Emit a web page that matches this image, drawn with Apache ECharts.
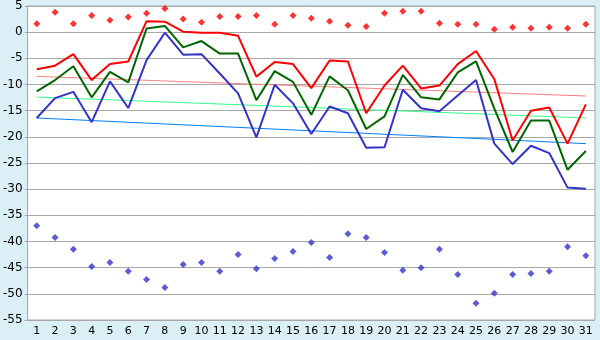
<!DOCTYPE html>
<html>
<head>
<meta charset="utf-8">
<script src="https://cdn.jsdelivr.net/npm/echarts@6/dist/echarts.min.js"></script>
<style>
  html, body { margin: 0; padding: 0; background: #daeff6; }
  #chart { width: 600px; height: 340px; }
</style>
</head>
<body>
<div id="chart"></div>
<script>
const days = Array.from({ length: 31 }, (_, i) => String(i + 1));

const redLine = [-7.1, -6.4, -4.2, -9.15, -6.1, -5.6, 2.1, 2.0, 0.1, -0.1, -0.1, -0.7, -8.5, -5.7, -6.1, -10.7,
  -5.4, -5.6, -15.5, -10.2, -6.4, -10.75, -10.2, -6.1, -3.6, -9.0, -20.7, -15.0, -14.4, -21.3, -13.8];
const greenLine = [-11.3, -9.15, -6.5, -12.45, -7.6, -9.6, 0.7, 1.2, -2.9, -1.7, -4.1, -4.1, -13.0, -7.45, -9.5, -15.8,
  -8.45, -11.1, -18.5, -16.1, -8.15, -12.45, -12.85, -7.7, -5.6, -14.6, -22.9, -16.9, -16.9, -26.3, -22.7];
const blueLine = [-16.4, -12.6, -11.4, -17.2, -9.4, -14.5, -5.35, -0.1, -4.3, -4.2, -7.9, -11.7, -20.1, -10.05, -13.6, -19.45,
  -14.2, -15.5, -22.1, -22.0, -11.0, -14.55, -15.1, -12.1, -9.15, -21.3, -25.2, -21.7, -23.1, -29.7, -29.9];

const redPoints = [1.6, 3.8, 1.6, 3.2, 2.3, 2.9, 3.6, 4.5, 2.5, 1.9, 3.0, 3.0, 3.2, 1.5, 3.2, 2.65,
  2.1, 1.3, 1.1, 3.6, 4.0, 4.0, 1.7, 1.5, 1.5, 0.55, 0.93, 0.75, 0.93, 0.75, 1.5];
const bluePoints = [-37.0, -39.25, -41.5, -44.8, -44.0, -45.7, -47.25, -48.8, -44.4, -44.0, -45.7, -42.5, -45.2, -43.25, -41.9, -40.2,
  -43.05, -38.5, -39.25, -42.1, -45.5, -45.0, -41.5, -46.3, -51.8, -49.9, -46.3, -46.1, -45.7, -41.0, -42.7];

// trend lines: value at first and last day
const redTrend = [-8.45, -12.2];
const greenTrend = [-12.4, -16.4];
const blueTrend = [-16.4, -21.3];

const yTicks = { min: -55, max: 5, step: 5 };

const chart = echarts.init(document.getElementById('chart'));

const trend = (ends, color) => ({
  type: 'line',
  data: [[0, ends[0]], [days.length - 1, ends[1]]],
  symbol: 'none',
  silent: true,
  lineStyle: { color, width: 1 },
  z: 1
});

const mainLine = (data, color) => ({
  type: 'line',
  data,
  symbol: 'none',
  lineStyle: { color, width: 2 },
  z: 2
});

const dots = (data, color) => ({
  type: 'scatter',
  data,
  symbol: 'diamond',
  symbolSize: 7,
  itemStyle: { color },
  z: 3
});

chart.setOption({
  backgroundColor: '#daeff6',
  animation: false,
  textStyle: { fontFamily: 'DejaVu Sans' },
  grid: {
    left: 27, right: 5, top: 5, bottom: 20,
    show: true, backgroundColor: '#ffffff', borderColor: '#a8a8a8', borderWidth: 1
  },
  xAxis: {
    type: 'category',
    data: days,
    boundaryGap: true,
    axisLine: { lineStyle: { color: '#a8a8a8' } },
    axisTick: { alignWithLabel: true, length: 4, lineStyle: { color: '#000' } },
    axisLabel: { color: '#000', fontSize: 11, margin: 6, interval: 0 },
    splitLine: { show: false }
  },
  yAxis: {
    type: 'value',
    min: yTicks.min,
    max: yTicks.max,
    interval: yTicks.step,
    axisLine: { show: true, lineStyle: { color: '#a8a8a8' } },
    axisTick: { show: true, length: 3, lineStyle: { color: '#a8a8a8' } },
    axisLabel: { color: '#000', fontSize: 12, margin: 5 },
    splitLine: { lineStyle: { color: '#a8a8a8', width: 1 } }
  },
  series: [
    trend(redTrend, '#ff8080'),
    trend(greenTrend, '#33ff88'),
    trend(blueTrend, '#0080ff'),
    mainLine(redLine, '#ff0000'),
    mainLine(greenLine, '#006600'),
    mainLine(blueLine, '#3333cc'),
    dots(redPoints, '#ff0000'),
    dots(bluePoints, '#3333cc')
  ]
});
</script>
</body>
</html>
